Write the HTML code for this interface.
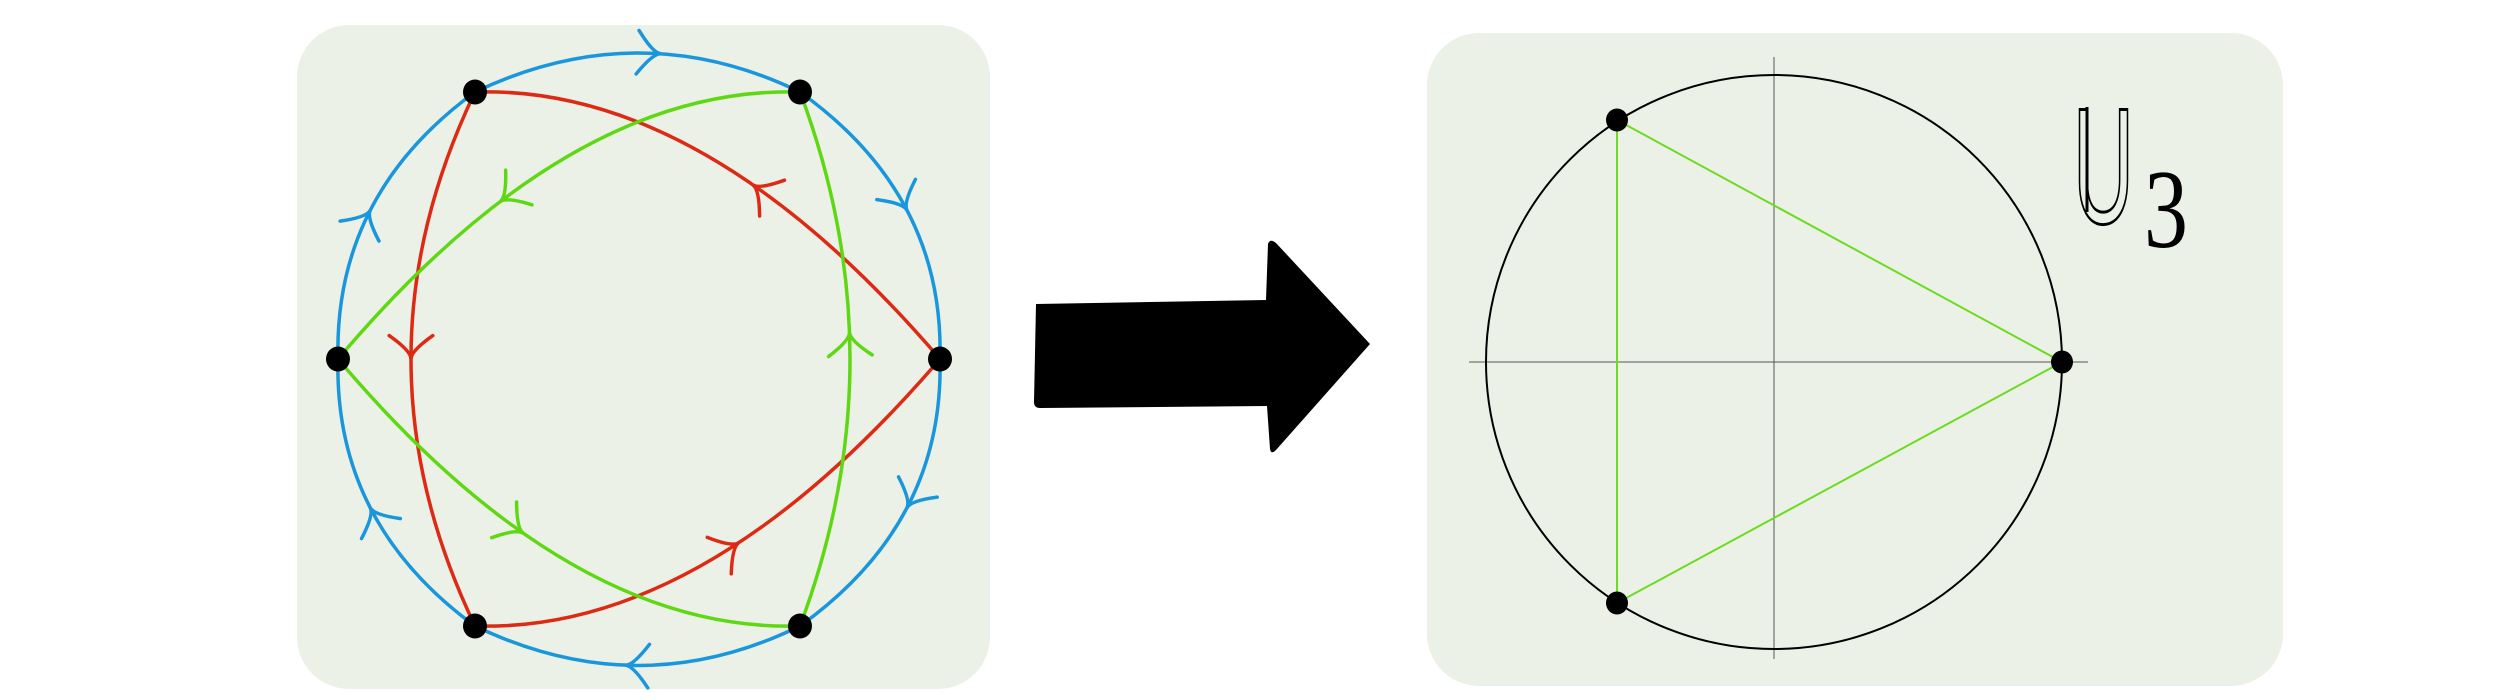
<!DOCTYPE html>
<html><head><meta charset="utf-8">
<style>
html,body{margin:0;padding:0;background:#fff;width:2500px;height:700px;overflow:hidden}
svg{display:block}
</style></head>
<body>
<svg id="fig" width="2500" height="700" viewBox="0 0 2500 700" xmlns="http://www.w3.org/2000/svg">
  <rect x="297" y="25" width="693" height="664" rx="52" fill="#ecf1e7"/>
  <rect x="1427" y="33" width="856" height="653" rx="52" fill="#ecf1e7"/>
  <g id="left"></g>
  <path d="M1036,304 L1266,300 L1268,244 Q1270,238 1276,243 L1370,344 L1276,450 Q1271,455 1270,449 L1267,406 L1040,408 Q1034,408 1034,402 Z" fill="#000"/>
  <g id="right">
    <line x1="1774" y1="57" x2="1774" y2="659" stroke="#555" stroke-width="1"/>
    <line x1="1469" y1="362" x2="2088" y2="362" stroke="#555" stroke-width="1"/>
    <ellipse cx="1774" cy="362" rx="288" ry="287" fill="none" stroke="#000" stroke-width="2"/>
  </g>
  <g>
    <text x="2073" y="223" font-family="Liberation Sans, sans-serif" font-size="165" fill="none" stroke="#000" stroke-width="3" textLength="61" lengthAdjust="spacingAndGlyphs">U</text>
    <line x1="2087" y1="107" x2="2087" y2="212" stroke="#000" stroke-width="3"/>
    <text x="2144" y="247" font-family="Liberation Serif, serif" font-size="112" fill="#000" textLength="44" lengthAdjust="spacingAndGlyphs">3</text>
  </g>
</svg>
<script>
const NS='http://www.w3.org/2000/svg';
// left graph data
const nodeX=[475,800,338,940,475,800];
const nodeY=[92,92,359,359,626,626];
// edges: from, to, control point, arrow position t, colour
const edgeFrom=[0,1,3,5,4,2, 0,4,3, 1,2,5];
const edgeTo  =[1,3,5,4,2,0, 4,3,0, 2,5,1];
const edgeCX  =[639,944,944,639,334,334, 347,705,705, 570,570,900];
const edgeCY  =[14,195,523,705,523,195, 359,633,85, 85,633,359];
const edgeT   =[0.57,0.5,0.5,0.54,0.5,0.5, 0.5,0.57,0.4, 0.65,0.4,0.55];
const edgeColor=['#1a96dc','#1a96dc','#1a96dc','#1a96dc','#1a96dc','#1a96dc','#dc2a14','#dc2a14','#dc2a14','#5fd814','#5fd814','#5fd814'];
const left=document.getElementById('left');
for(let i=0;i<edgeFrom.length;i++){
  const x0=nodeX[edgeFrom[i]],y0=nodeY[edgeFrom[i]],x1=nodeX[edgeTo[i]],y1=nodeY[edgeTo[i]];
  const cx=edgeCX[i],cy=edgeCY[i],c=edgeColor[i];
  const p=document.createElementNS(NS,'path');
  p.setAttribute('d',`M${x0},${y0} Q${cx},${cy} ${x1},${y1}`);
  p.setAttribute('fill','none');p.setAttribute('stroke',c);p.setAttribute('stroke-width','3.5');
  
  
  left.appendChild(p);
  const t=edgeT[i];
  const px=(1-t)*(1-t)*x0+2*(1-t)*t*cx+t*t*x1, py=(1-t)*(1-t)*y0+2*(1-t)*t*cy+t*t*y1;
  let dx=2*(1-t)*(cx-x0)+2*t*(x1-cx), dy=2*(1-t)*(cy-y0)+2*t*(y1-cy);
  const L=Math.hypot(dx,dy);dx/=L;dy/=L;
  const a=0.75,len=32;
  const bx1=px-len*(dx*Math.cos(a)-dy*Math.sin(a)), by1=py-len*(dy*Math.cos(a)+dx*Math.sin(a));
  const bx2=px-len*(dx*Math.cos(a)+dy*Math.sin(a)), by2=py-len*(dy*Math.cos(a)-dx*Math.sin(a));
  const ar=document.createElementNS(NS,'path');
  ar.setAttribute('d',`M${bx1},${by1} Q${px-8*dx},${py-8*dy} ${px},${py} Q${px-8*dx},${py-8*dy} ${bx2},${by2}`);
  ar.setAttribute('fill','none');ar.setAttribute('stroke',c);ar.setAttribute('stroke-width','3.5');ar.setAttribute('stroke-linecap','round');
  
  
  left.appendChild(ar);
}
for(let i=0;i<nodeX.length;i++){
  const e=document.createElementNS(NS,'ellipse');
  e.setAttribute('cx',nodeX[i]);e.setAttribute('cy',nodeY[i]);e.setAttribute('rx',12);e.setAttribute('ry',12.5);e.setAttribute('fill','#000');
  
  
  left.appendChild(e);
}
// right diagram data
const rootX=[1617,2062,1617];
const rootY=[120,362,603];
const right=document.getElementById('right');
for(let i=0;i<rootX.length;i++){
  const j=(i+1)%rootX.length;
  const l=document.createElementNS(NS,'line');
  l.setAttribute('x1',rootX[i]);l.setAttribute('y1',rootY[i]);l.setAttribute('x2',rootX[j]);l.setAttribute('y2',rootY[j]);
  l.setAttribute('stroke','#6bdc1e');l.setAttribute('stroke-width','2');
  
  
  right.appendChild(l);
}
for(let i=0;i<rootX.length;i++){
  const e=document.createElementNS(NS,'ellipse');
  e.setAttribute('cx',rootX[i]);e.setAttribute('cy',rootY[i]);e.setAttribute('rx',11);e.setAttribute('ry',11.5);e.setAttribute('fill','#000');
  
  
  right.appendChild(e);
}
</script>
</body></html>
